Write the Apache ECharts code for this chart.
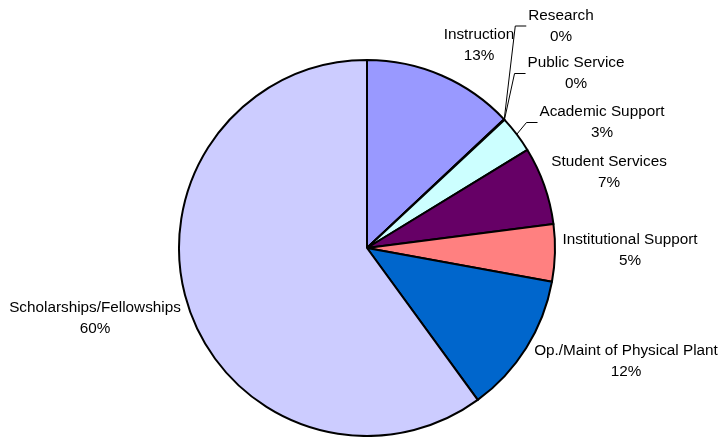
<!DOCTYPE html>
<html>
<head>
<meta charset="utf-8">
<script src="https://cdn.jsdelivr.net/npm/echarts@6/dist/echarts.min.js"></script>
<style>html,body{margin:0;padding:0;background:#fff}#c{width:719px;height:437px}</style>
</head>
<body>
<div id="c"></div>
<script>
const categories = ['Instruction','Research','Public Service','Academic Support','Student Services','Institutional Support','Op./Maint of Physical Plant','Scholarships/Fellowships'];
const values = [13.0, 0.03, 0.03, 3.2, 6.7, 4.9, 12.1, 60.0];
const colors = ['#9999FF','#993366','#FFFFCC','#CCFFFF','#660066','#FF8080','#0066CC','#CCCCFF'];
// label anchor positions (centre of text block), layout only
const labelPos = [[479,45],[561,26],[576,73.5],[602,122.5],[609,172],[630,250.5],[626,361.5],[95,318]];
const withLeader = [false,true,true,true,false,false,false,false];

const chart = echarts.init(document.getElementById('c'), null, {renderer:'canvas'});
chart.setOption({
  animation:false,
  series:[{
    type:'pie',
    center:[367,248],
    radius:188,
    startAngle:90,
    clockwise:true,
    percentPrecision:0,
    itemStyle:{borderColor:'#000',borderWidth:2},
    label:{
      show:true,position:'outside',
      formatter:'{b}\n{d}%',
      overflow:'none',
      fontFamily:'Liberation Sans, Arial, sans-serif',
      fontSize:15.3,lineHeight:21,color:'#000',align:'center'
    },
    labelLine:{show:true,length:10,length2:10,smooth:false,lineStyle:{color:'#000',width:1}},
    labelLayout:function(p){
      const i=p.dataIndex;
      const pos=labelPos[i];
      const out={x:pos[0],y:pos[1],align:'center',verticalAlign:'middle'};
      if(withLeader[i] && p.labelLinePoints){
        const w=p.labelRect.width;
        const ex=pos[0]-w/2-2, ey=pos[1];
        out.labelLinePoints=[p.labelLinePoints[0].slice(),[ex-11,ey],[ex,ey]];
      }
      return out;
    },
    data:categories.map((n,i)=>({
      name:n,value:values[i],
      itemStyle:{color:colors[i]},
      labelLine:{show:withLeader[i]}
    }))
  }]
});
</script>
</body>
</html>
